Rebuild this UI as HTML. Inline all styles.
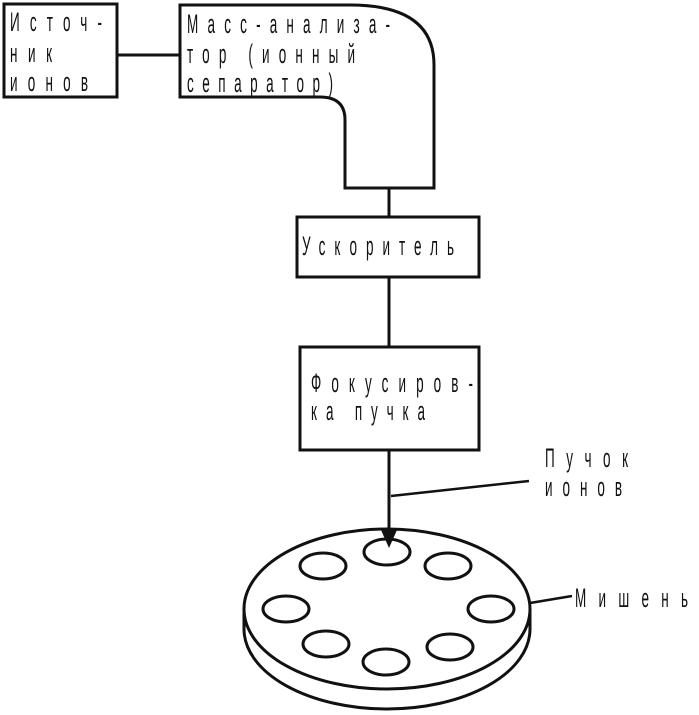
<!DOCTYPE html>
<html><head><meta charset="utf-8"><style>
html,body{margin:0;padding:0;background:#fff;}
svg{display:block;}
text{font-family:"Liberation Sans",sans-serif;font-size:27px;fill:#111;}
</style></head><body>
<svg width="699" height="715" viewBox="0 0 699 715" xmlns="http://www.w3.org/2000/svg">
<g fill="none" stroke="#111" stroke-width="3">
<rect x="4" y="4" width="113" height="93"/>
<line x1="117" y1="55" x2="180" y2="55"/>
<path d="M180,5 L350,5 Q434,5 434,65 L434,188 L345,188 L345,120 Q345,97 320,97 L180,97 Z"/>
<line x1="389" y1="188" x2="389" y2="217"/>
<rect x="297" y="217" width="182" height="60"/>
<line x1="389" y1="277" x2="389" y2="347"/>
<rect x="300" y="347" width="179" height="103"/>
<line x1="389" y1="450" x2="389" y2="535"/>
<line x1="391" y1="496" x2="529" y2="481" stroke-width="2.5"/>
<path d="M244,609 L244,629 A143,80 0 0 0 530,629 L530,609"/>
<ellipse cx="387" cy="609" rx="143" ry="80" fill="#fff"/>
<ellipse cx="387" cy="552" rx="23" ry="13"/>
<ellipse cx="323" cy="566" rx="23" ry="13"/>
<ellipse cx="448" cy="566" rx="23" ry="13"/>
<ellipse cx="286" cy="609" rx="23" ry="13"/>
<ellipse cx="491" cy="609" rx="23" ry="13"/>
<ellipse cx="326" cy="644" rx="23" ry="13"/>
<ellipse cx="450" cy="647" rx="23" ry="13"/>
<ellipse cx="386" cy="662" rx="23" ry="13"/>
<line x1="530" y1="603" x2="572" y2="596" stroke-width="2.5"/>
</g>
<polygon points="381,530 397,530 389,548" fill="#111"/>
<g>
<g transform="translate(10,31) scale(0.5,1)"><text textLength="184" lengthAdjust="spacing">Источ-</text></g>
<g transform="translate(10,62) scale(0.5,1)"><text textLength="84" lengthAdjust="spacing">ник</text></g>
<g transform="translate(10,91) scale(0.5,1)"><text textLength="156" lengthAdjust="spacing">ионов</text></g>
<g transform="translate(187,33) scale(0.5,1)"><text textLength="406" lengthAdjust="spacing">Масс-анализа-</text></g>
<g transform="translate(187,63) scale(0.5,1)"><text textLength="336" lengthAdjust="spacing">тор (ионный</text></g>
<g transform="translate(187,92) scale(0.5,1)"><text textLength="292" lengthAdjust="spacing">сепаратор)</text></g>
<g transform="translate(302,255) scale(0.5,1)"><text textLength="304" lengthAdjust="spacing">Ускоритель</text></g>
<g transform="translate(311,392) scale(0.5,1)"><text textLength="324" lengthAdjust="spacing">Фокусиров-</text></g>
<g transform="translate(311,420) scale(0.5,1)"><text textLength="228" lengthAdjust="spacing">ка пучка</text></g>
<g transform="translate(545,467) scale(0.5,1)"><text textLength="166" lengthAdjust="spacing">Пучок</text></g>
<g transform="translate(545,496) scale(0.5,1)"><text textLength="154" lengthAdjust="spacing">ионов</text></g>
<g transform="translate(575,607) scale(0.5,1)"><text textLength="226" lengthAdjust="spacing">Мишень</text></g>
</g>
</svg>
</body></html>
